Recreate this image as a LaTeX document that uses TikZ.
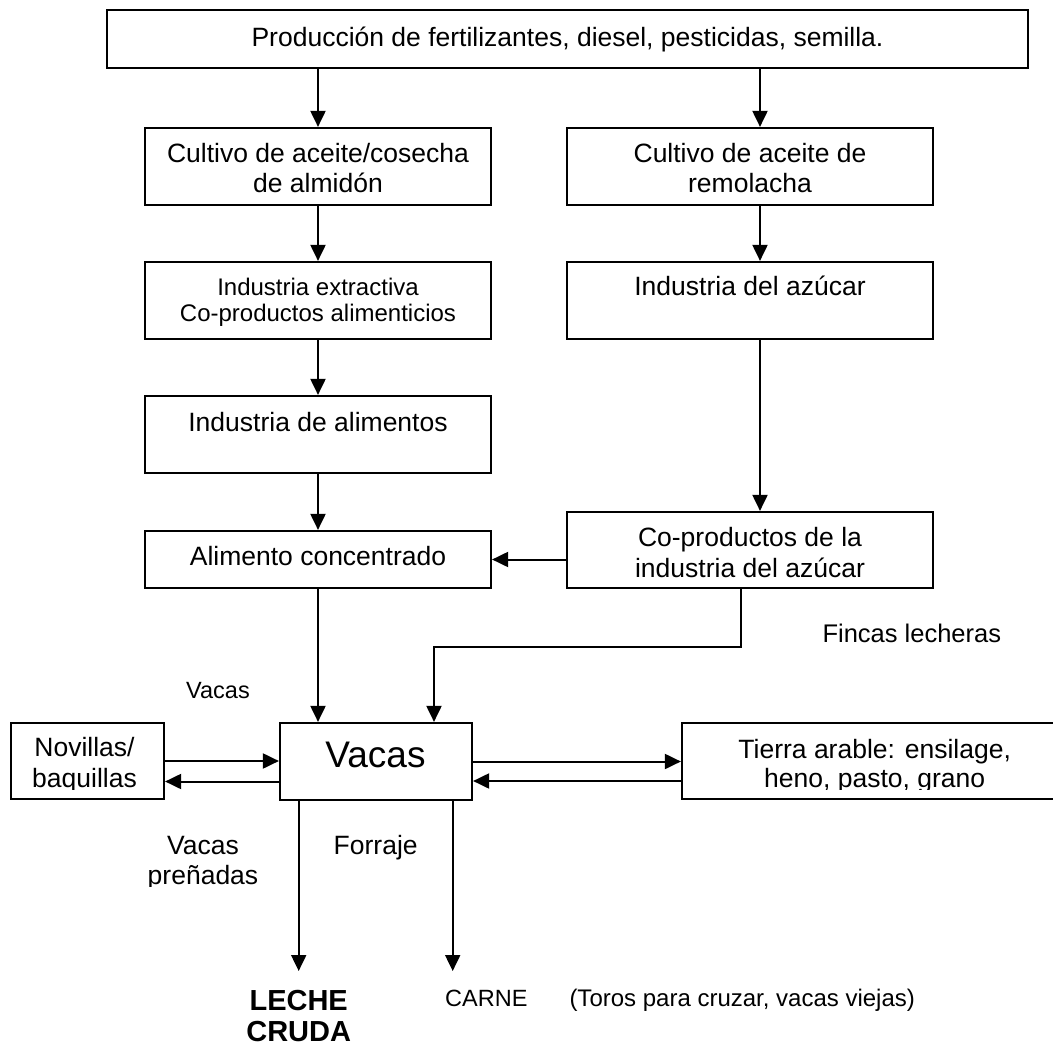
\documentclass[tikz,border=0pt]{standalone}
\usepackage{fontspec}
\setmainfont{Liberation Sans}
\usetikzlibrary{arrows.meta}
\begin{document}
\begin{tikzpicture}[x=1pt,y=-1pt,
  box/.style={draw, rectangle, line width=2.2pt, inner sep=0pt},
  arr/.style={line width=2pt, -{Triangle[width=15pt,length=16pt]}},
  txt/.style={inner sep=0pt, anchor=base, font=\fontsize{26.5}{30}\selectfont},
  txtm/.style={txt, font=\fontsize{24}{27}\selectfont},
  txts/.style={txt, font=\fontsize{23.5}{27}\selectfont},
  txtv/.style={txt, font=\fontsize{37}{40}\selectfont},
  txtb/.style={txt, font=\bfseries\fontsize{29}{31}\selectfont}]
\useasboundingbox (0,0) rectangle (1053,1046);
\fill[white] (0,0) rectangle (1053,1046);
\clip (0,0) rectangle (1053,1046);

% boxes
\node[box, minimum width=921pt, minimum height=58pt] (top) at (567.5,39) {};
\node[box, minimum width=346pt, minimum height=77pt] (cul1) at (318,166.5) {};
\node[box, minimum width=366pt, minimum height=77pt] (cul2) at (750,166.5) {};
\node[box, minimum width=346pt, minimum height=77pt] (ind1) at (318,300.5) {};
\node[box, minimum width=366pt, minimum height=77pt] (ind2) at (750,300.5) {};
\node[box, minimum width=346pt, minimum height=77pt] (ali) at (318,434.5) {};
\node[box, minimum width=346pt, minimum height=57pt] (conc) at (318,559.5) {};
\node[box, minimum width=366pt, minimum height=76pt] (cop) at (750,550) {};
\node[box, minimum width=192pt, minimum height=77pt] (vac) at (376,761.5) {};
\node[box, minimum width=153pt, minimum height=76pt] (nov) at (87.5,761) {};
\node[box, minimum width=385pt, minimum height=76pt] (tie) at (874.5,761) {};

% box texts
\node[txt] (ttop) at (567.5,46.7) {Producción de fertilizantes, diesel, pesticidas, semilla.};
\node[txt] (tcul1a) at (318,163) {Cultivo de aceite/cosecha};
\node[txt] (tcul1b) at (318,193) {de almidón};
\node[txt] (tcul2a) at (750,163) {Cultivo de aceite de};
\node[txt] (tcul2b) at (750,193) {remolacha};
\node[txtm] (tind1a) at (318,295) {Industria extractiva};
\node[txtm] (tind1b) at (318,321.7) {Co-productos alimenticios};
\node[txt] (tind2) at (750,295) {Industria del azúcar};
\node[txt] (tali) at (318,431.7) {Industria de alimentos};
\node[txt] (tconc) at (318,565) {Alimento concentrado};
\node[txt] (tcopa) at (750,546.7) {Co-productos de la};
\node[txt] (tcopb) at (750,577.3) {industria del azúcar};
\node[txtv] (tvac) at (375.5,767.7) {Vacas};
\node[txt] (tnova) at (84.5,756.7) {Novillas/};
\node[txt] (ttiea) at (874.7,758.3) {Tierra arable: ensilage,};
\begin{scope}
  \clip (0,0) rectangle (1053,789.5);
  \node[txt] (tnovb) at (84.5,787) {baquillas};
  \node[txt] (ttieb) at (874.7,787) {heno, pasto, grano};
\end{scope}

% free labels
\node[txts] (lvacas) at (218,698) {Vacas};
\node[txt, font=\fontsize{25.5}{29}\selectfont] (lfincas) at (911.8,642.7) {Fincas lecheras};
\node[txt] (lvp1) at (203,854.3) {Vacas};
\begin{scope}
  \clip (0,0) rectangle (1053,886);
  \node[txt] (lvp2) at (203,884) {preñadas};
\end{scope}
\node[txt] (lforr) at (375.7,854.3) {Forraje};
\node[txtb] (lleche1) at (298.7,1010.7) {LECHE};
\node[txtb] (lleche2) at (298.7,1041.7) {CRUDA};
\node[txts, anchor=base west] (lcarne) at (445,1006) {CARNE};
\node[txts, anchor=base west, font=\fontsize{24}{27}\selectfont] (ltoros) at (569.3,1006.7) {(Toros para cruzar, vacas viejas)};

% connectors
\draw[arr] (top.south -| cul1.north) -- (cul1.north);
\draw[arr] ([xshift=10pt]cul2.north |- top.south) -- ([xshift=10pt]cul2.north);
\draw[arr] (cul1.south) -- (ind1.north);
\draw[arr] ([xshift=10pt]cul2.south) -- ([xshift=10pt]ind2.north);
\draw[arr] (ind1.south) -- (ali.north);
\draw[arr] (ali.south) -- (conc.north);
\draw[arr] ([xshift=10pt]ind2.south) -- ([xshift=10pt]cop.north);
\draw[arr] (cop.west |- conc.east) -- (conc.east);
\draw[arr] (conc.south) -- (conc.south |- vac.north);
\draw[arr] ([xshift=-9pt]cop.south) -- ++(0,58) -| ([xshift=58pt]vac.north);
\draw[arr] (nov.east) -- (nov.east -| vac.west);
\draw[arr] ([yshift=-20pt]vac.west) -- ([yshift=-20pt]vac.west -| nov.east);
\draw[arr] (vac.east) -- (vac.east -| tie.west);
\draw[arr] ([yshift=-20pt]tie.west) -- ([yshift=-20pt]tie.west -| vac.east);
\coordinate (leche) at (298.7,971);
\coordinate (carne) at (452.7,971);
\draw[arr] (vac.south -| leche) -- (leche);
\draw[arr] (vac.south -| carne) -- (carne);
\end{tikzpicture}
\end{document}
